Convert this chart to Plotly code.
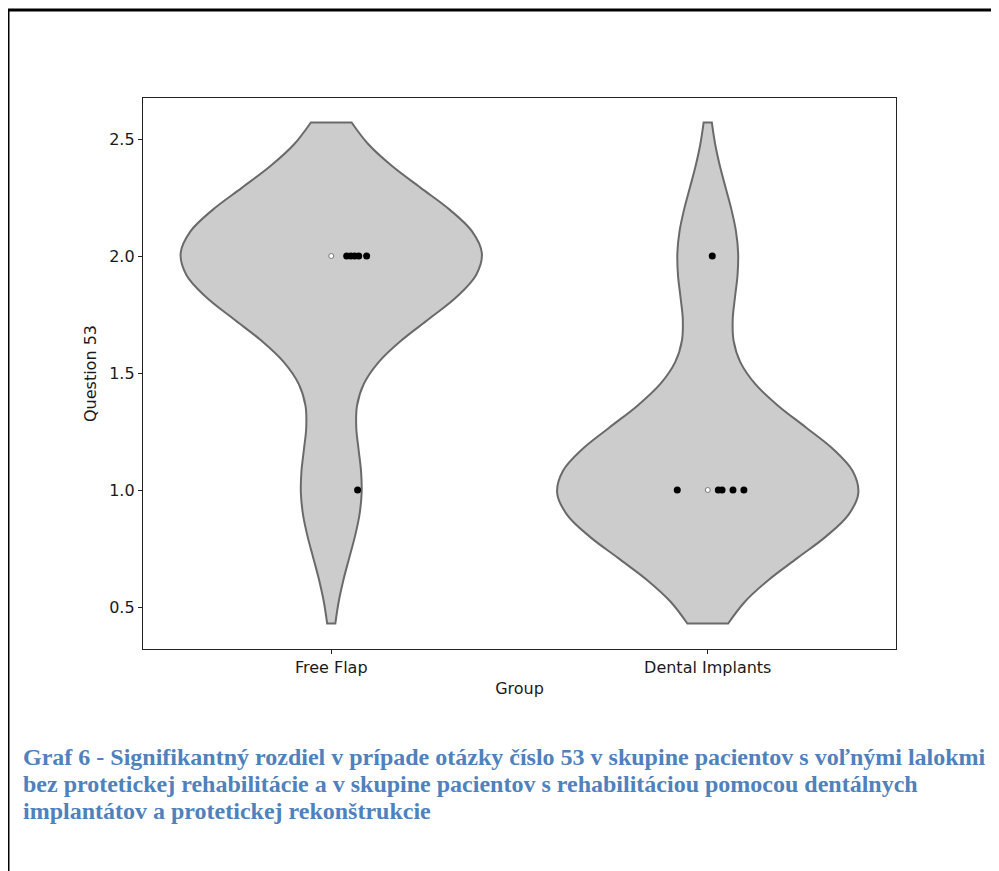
import numpy as np
import plotly.graph_objects as go

# ---- data ----
groups = ["Free Flap", "Dental Implants"]
free_flap = [2, 2, 2, 2, 2, 1]
dental_implants = [1, 1, 1, 1, 1, 2]
free_flap_jitter = [0.041, 0.052, 0.062, 0.073, 0.094, 0.070]
dental_jitter = [-0.081, 0.028, 0.038, 0.067, 0.096, 0.012]
y_ticks = [0.5, 1.0, 1.5, 2.0, 2.5]
caption_lines = [
    "Graf 6 - Signifikantný rozdiel v prípade otázky číslo 53 v skupine pacientov s voľnými lalokmi",
    "bez protetickej rehabilitácie a v skupine pacientov s rehabilitáciou pomocou dentálnych",
    "implantátov a protetickej rekonštrukcie",
]

OFF = 8  # page body margin
W, H = 999 - OFF, 871 - OFF
L, R, T, B = 143 - OFF, 896 - OFF, 98 - OFF, 649 - OFF


def px_x(px):
    return (px - OFF - L) / (R - L)


def px_y(py):
    return (B - (py - OFF)) / (B - T)


fig = go.Figure()
series = [free_flap, dental_implants]
jitters = [free_flap_jitter, dental_jitter]
for i, (vals, jit) in enumerate(zip(series, jitters)):
    arr = np.array(vals, dtype=float)
    bw = len(arr) ** (-1 / 5) * arr.std(ddof=1)
    lo, hi = arr.min() - 2 * bw, arr.max() + 2 * bw
    fig.add_trace(go.Violin(
        x=[i] * len(arr), y=arr, width=0.8, bandwidth=bw,
        spanmode="manual", span=[lo, hi], points=False,
        fillcolor="#cccccc", line=dict(color="#6a6a6a", width=2),
        box=dict(visible=False), meanline=dict(visible=False),
        showlegend=False, hoverinfo="skip", opacity=1,
    ))
for i, (vals, jit) in enumerate(zip(series, jitters)):
    fig.add_trace(go.Scatter(
        x=[i + j for j in jit], y=vals, mode="markers",
        marker=dict(color="black", size=7, line=dict(width=0)),
        showlegend=False, hoverinfo="skip",
    ))
    fig.add_trace(go.Scatter(
        x=[i], y=[float(np.median(vals))], mode="markers",
        marker=dict(color="white", size=5, line=dict(color="#777777", width=1)),
        showlegend=False, hoverinfo="skip",
    ))

y_lo = 0.5 - (649 - 607) / 234
y_hi = 2.5 + (139 - 98) / 234

axis_common = dict(
    showgrid=False, zeroline=False, showline=True, mirror=True,
    linecolor="#222222", linewidth=1.3, ticks="outside", ticklen=4,
    tickcolor="#222222", tickfont=dict(family="DejaVu Sans", size=16, color="#1a1a1a"),
)
fig.update_layout(
    width=W, height=H, autosize=False,
    margin=dict(l=L, r=W - R, t=T, b=H - B, pad=0),
    paper_bgcolor="white", plot_bgcolor="white",
    font=dict(family="DejaVu Sans", size=16, color="#1a1a1a"),
    xaxis=dict(
        range=[-0.5, 1.5], tickvals=[0, 1], ticktext=groups,
        title=dict(text="Group", standoff=6, font=dict(family="DejaVu Sans", size=16)),
        **axis_common,
    ),
    yaxis=dict(
        range=[y_lo, y_hi], tickvals=y_ticks, ticktext=[f"{v:.1f}" for v in y_ticks],
        title=dict(text="Question 53", standoff=8, font=dict(family="DejaVu Sans", size=16)),
        **axis_common,
    ),
)

# page border (top and left)
fig.add_shape(type="line", xref="paper", yref="paper",
              x0=px_x(8), x1=px_x(1005), y0=px_y(10), y1=px_y(10),
              line=dict(color="black", width=3))
fig.add_shape(type="line", xref="paper", yref="paper",
              x0=px_x(8), x1=px_x(8), y0=px_y(10), y1=px_y(880),
              line=dict(color="black", width=3))

for k, line in enumerate(caption_lines):
    fig.add_annotation(
        text=f"<b>{line}</b>", xref="paper", yref="paper",
        x=px_x(21), y=px_y(757 + k * 27), xanchor="left", yanchor="middle",
        showarrow=False,
        font=dict(family="Liberation Serif", size=24, color="#4f81bd"),
    )

fig.write_html("out.html")
